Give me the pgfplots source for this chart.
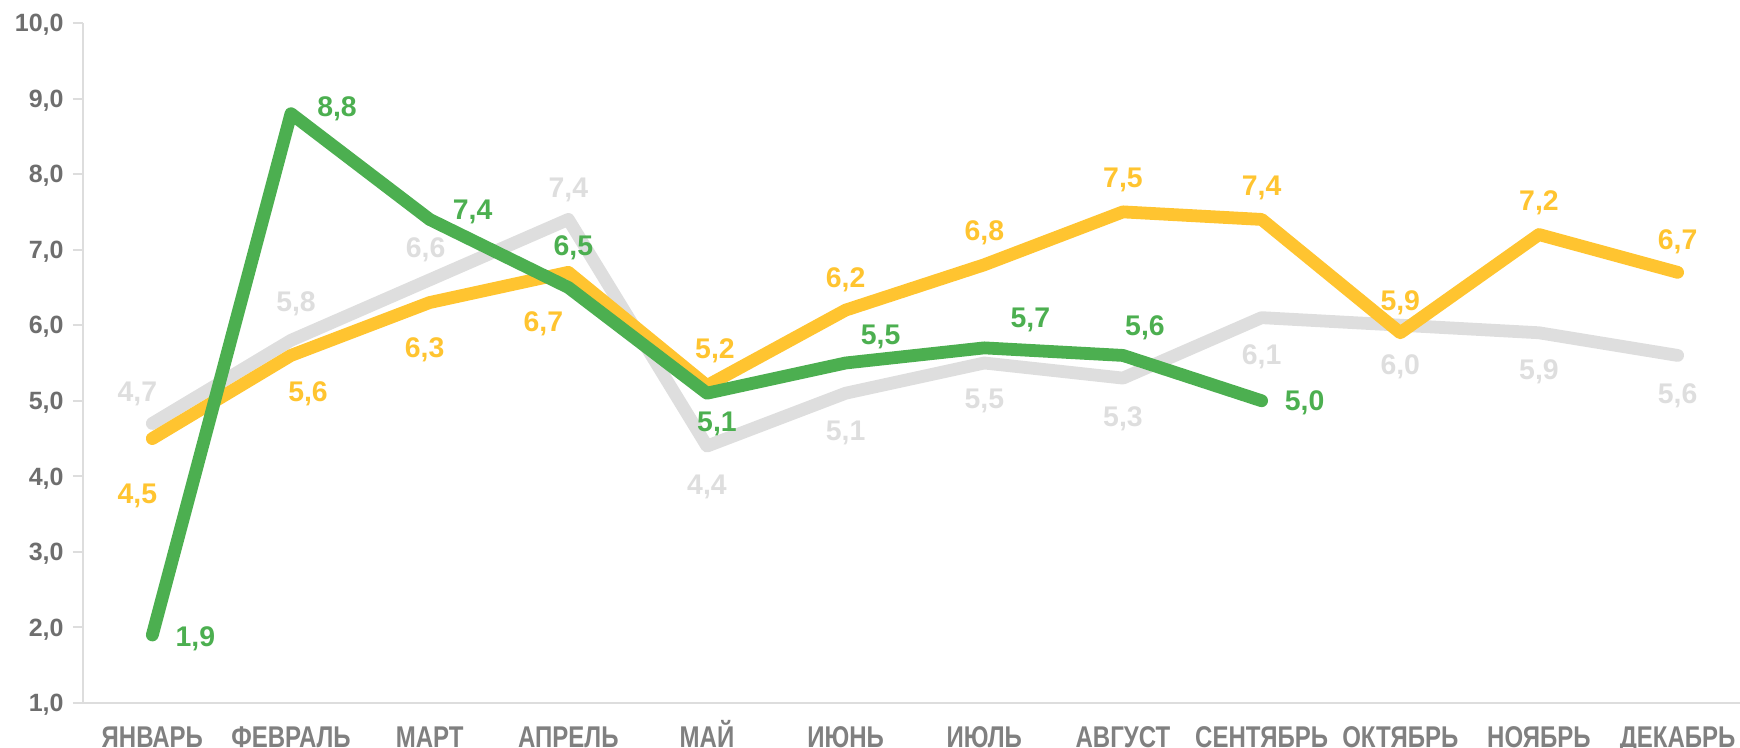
\documentclass[border=0pt]{standalone}
\usepackage{fontspec}
\setmainfont{Liberation Sans}
\newfontfamily\narrowfont[FakeStretch=0.8]{Liberation Sans}
\usepackage{pgfplots}
\usepackage{pgfplotstable}
\pgfplotsset{compat=1.18}
\definecolor{cgray}{HTML}{DEDEDE}
\definecolor{cyellow}{HTML}{FFC430}
\definecolor{cgreen}{HTML}{4CAF50}
\definecolor{ctick}{HTML}{6E6E6E}
\definecolor{cmonth}{HTML}{808080}
\definecolor{caxis}{HTML}{DDDDDD}

\pgfplotstableread{
x y dx dy
0 4.7 -7.5 16
1 5.8 2.5 19.5
2 6.6 -2 16
3 7.4 0 16
4 4.4 0 -19.5
5 5.1 0 -19
6 5.5 0 -18
7 5.3 0 -19
8 6.1 0 -18.5
9 6.0 0 -19.5
10 5.9 0 -18.5
11 5.6 0 -19
}\graydata

\pgfplotstableread{
x y dx dy
0 4.5 -7.5 -27.5
1 5.6 8.5 -18
2 6.3 -2.5 -22.5
3 6.7 -12.5 -24.5
4 5.2 4 18.5
5 6.2 0 16.5
6 6.8 0 17
7 7.5 0 17
8 7.4 0 17
9 5.9 0 16
10 7.2 0 17
11 6.7 0 16.5
}\yellowdata

\pgfplotstableread{
x y dx dy
0 1.9 21.5 -1
1 8.8 23 3.5
2 7.4 21.5 5
3 6.5 2.5 21
4 5.1 5 -14.5
5 5.5 17.5 14
6 5.7 23 15
7 5.6 11 15
8 5.0 21.5 0
}\greendata

\pgfplotsset{
  lbl/.style={
    line width=6.4pt, line join=round, line cap=round, mark=none,
    color=#1,
    point meta=explicit,
    visualization depends on={\thisrow{dx} \as \dx},
    visualization depends on={\thisrow{dy} \as \dy},
    nodes near coords={\pgfmathprintnumber[fixed,fixed zerofill,precision=1,use comma]{\pgfplotspointmeta}},
    every node near coord/.append style={
      anchor=center, inner sep=0pt, text depth=0pt,
      xshift=\dx*1pt, yshift=\dy*1pt,
      font=\bfseries\fontsize{14.2}{14.2}\selectfont, text=#1},
  }
}

\begin{document}
\begin{tikzpicture}
\useasboundingbox (-41.5pt,-22.5pt) rectangle (828.5pt,351.5pt);
\begin{axis}[
  at={(0pt,0pt)}, anchor=south west,
  scale only axis, width=828.5pt, height=340pt,
  xmin=-0.5, xmax=11.45, ymin=1, ymax=10,
  clip=false,
  axis lines=left,
  x axis line style={-, draw=caxis, line width=1.4pt},
  y axis line style={-, draw=caxis, line width=1pt},
  xtick={0,...,11},
  xticklabels={ЯНВАРЬ,ФЕВРАЛЬ,МАРТ,АПРЕЛЬ,МАЙ,ИЮНЬ,ИЮЛЬ,АВГУСТ,СЕНТЯБРЬ,ОКТЯБРЬ,НОЯБРЬ,ДЕКАБРЬ},
  x tick style={draw=none},
  xticklabel style={anchor=north, inner sep=0pt, text height=10.75pt, text depth=0pt,
    yshift=-6.5pt, font=\narrowfont\bfseries\fontsize{15}{15}\selectfont, text=cmonth},
  ytick={1,...,10},
  tick align=outside,
  major tick length=5pt,
  y tick style={draw=caxis, line width=1pt},
  yticklabel style={anchor=east, inner sep=0pt, text depth=0pt, xshift=-4.5pt,
    font=\bfseries\fontsize{12.5}{12.5}\selectfont, text=ctick},
  /pgf/number format/assume math mode=true,
  y tick label style={/pgf/number format/.cd, fixed, fixed zerofill, precision=1, use comma},
]
\addplot[lbl=cgray] table[x=x, y=y, meta=y] {\graydata};
\addplot[lbl=cyellow] table[x=x, y=y, meta=y] {\yellowdata};
\addplot[lbl=cgreen] table[x=x, y=y, meta=y] {\greendata};
\end{axis}
\end{tikzpicture}
\end{document}
